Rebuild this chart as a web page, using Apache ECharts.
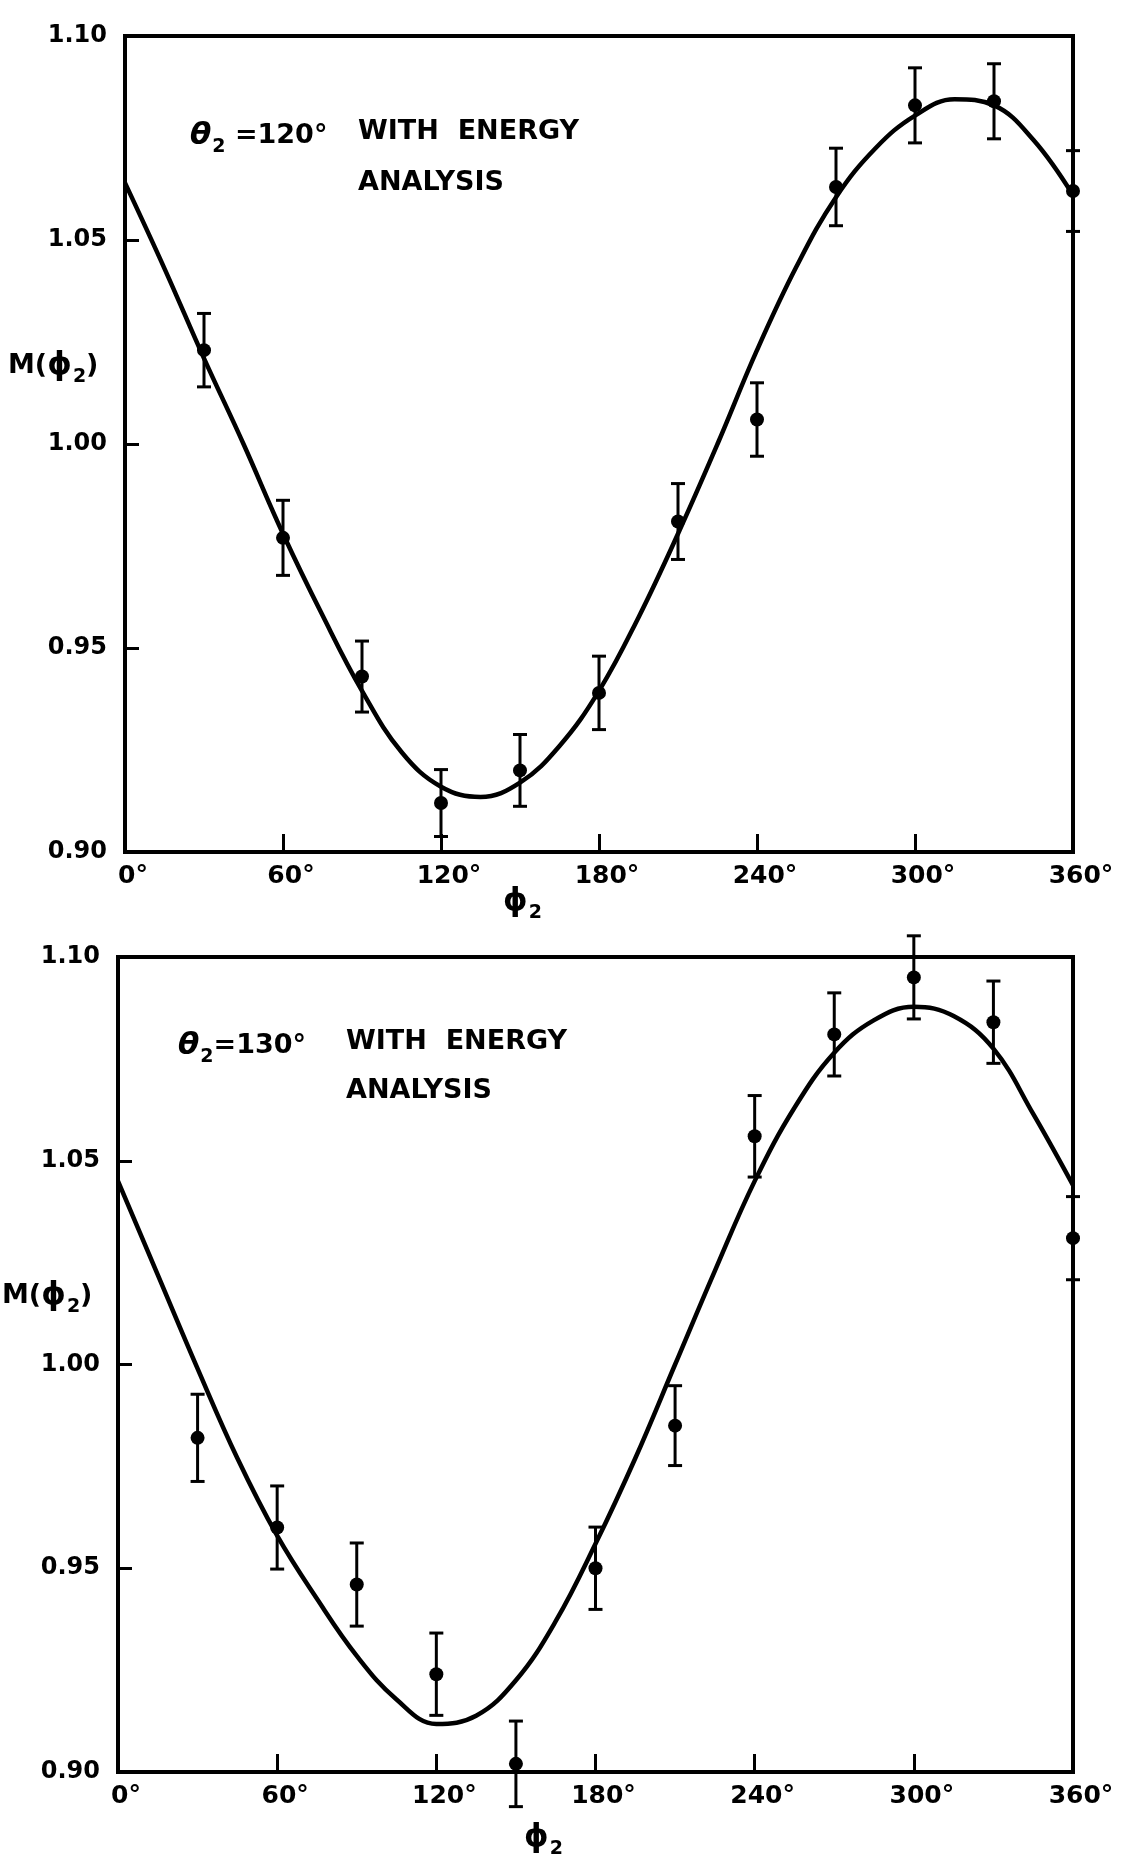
<!DOCTYPE html>
<html><head><meta charset="utf-8">
<script src="https://cdn.jsdelivr.net/npm/echarts@6/dist/echarts.min.js"></script>
<style>html,body{margin:0;padding:0;background:#fff}#c{width:1122px;height:1868px}</style>
</head><body><div id="c"></div>
<script>
// ---- data ----
const xTicks = [0, 60, 120, 180, 240, 300, 360];
const yTicks = [0.90, 0.95, 1.00, 1.05, 1.10];
const phi = [30, 60, 90, 120, 150, 180, 210, 240, 270, 300, 330, 360];

// top panel: theta2 = 120 deg
const topM   = [1.023, 0.977, 0.943, 0.912, 0.920, 0.939, 0.981, 1.006, 1.063, 1.083, 1.084, 1.062];
const topErr = [0.009, 0.0092, 0.0087, 0.0082, 0.0088, 0.009, 0.0093, 0.009, 0.0095, 0.0092, 0.0092, 0.0099];
const curvePhi = [0, 15, 30, 45, 60, 75, 90, 105, 120, 135, 150, 165, 180, 195, 210, 225, 240, 255, 270, 285, 300, 315, 330, 345, 360];
const topCurve = [1.064, 1.043, 1.021, 1.000, 0.978, 0.958, 0.9395, 0.9245, 0.916, 0.9135, 0.917, 0.926, 0.9395, 0.9575, 0.978, 1.000, 1.023, 1.0435, 1.0605, 1.0725, 1.0805, 1.0845, 1.083, 1.0745, 1.061];

// bottom panel: theta2 = 130 deg
const botM   = [0.982, 0.960, 0.946, 0.924, 0.902, 0.950, 0.985, 1.056, 1.081, 1.095, 1.084, 1.031];
const botErr = [0.0107, 0.0102, 0.0102, 0.0101, 0.0105, 0.0101, 0.0098, 0.010, 0.0102, 0.0102, 0.0101, 0.0102];
const botCurve = [1.045, 1.022, 0.999, 0.977, 0.958, 0.9425, 0.9285, 0.9178, 0.9118, 0.9138, 0.9225, 0.937, 0.956, 0.977, 1.000, 1.023, 1.045, 1.063, 1.0765, 1.0845, 1.0878, 1.0855, 1.0775, 1.0615, 1.044];

const titleTop = ['120°', 'WITH  ENERGY', 'ANALYSIS'];
const titleBot = ['130°', 'WITH  ENERGY', 'ANALYSIS'];

// ---- chart ----
const FONT = 'DejaVu Sans';
const chart = echarts.init(document.getElementById('c'), null, {renderer: 'canvas'});

function xAxisCfg(gi) {
  return {
    type: 'value', gridIndex: gi, min: xTicks[0], max: xTicks[xTicks.length - 1], interval: 60,
    axisLine: {show: true, lineStyle: {color: '#000', width: 4}},
    axisTick: {show: true, inside: true, length: 18, lineStyle: {color: '#000', width: 3}},
    splitLine: {show: false},
    axisLabel: {show: true, showMinLabel: true, showMaxLabel: true, margin: 12, color: '#000',
      fontFamily: FONT, fontWeight: 'bold', fontSize: 25, padding: [0, 0, 0, 16], formatter: v => v + '°'}
  };
}
function yAxisCfg(gi) {
  return {
    type: 'value', gridIndex: gi, min: yTicks[0], max: yTicks[yTicks.length - 1], interval: 0.05,
    axisLine: {show: true, lineStyle: {color: '#000', width: 4}},
    axisTick: {show: true, inside: true, length: 14, lineStyle: {color: '#000', width: 3}},
    splitLine: {show: false},
    axisLabel: {show: true, showMinLabel: true, showMaxLabel: true, margin: 18, color: '#000',
      fontFamily: FONT, fontWeight: 'bold', fontSize: 24, padding: [0, 0, 16, 0], formatter: v => v.toFixed(2)}
  };
}

function errRender(params, api) {
  const x = api.value(0), lo = api.value(1), hi = api.value(2);
  const a = api.coord([x, hi]), b = api.coord([x, lo]);
  const w = 7, st = {stroke: '#000', lineWidth: 3};
  return {type: 'group', children: [
    {type: 'line', shape: {x1: a[0], y1: a[1], x2: b[0], y2: b[1]}, style: st},
    {type: 'line', shape: {x1: a[0] - w, y1: a[1], x2: a[0] + w, y2: a[1]}, style: st},
    {type: 'line', shape: {x1: b[0] - w, y1: b[1], x2: b[0] + w, y2: b[1]}, style: st}
  ]};
}

function seriesFor(gi, M, E, C) {
  return [
    {type: 'line', xAxisIndex: gi, yAxisIndex: gi, smooth: 0.4, showSymbol: false, clip: false,
      data: curvePhi.map((p, i) => [p, C[i]]), lineStyle: {color: '#000', width: 4.5}, z: 3},
    {type: 'custom', xAxisIndex: gi, yAxisIndex: gi, clip: false, renderItem: errRender,
      data: phi.map((p, i) => [p, M[i] - E[i], M[i] + E[i]]), z: 4},
    {type: 'scatter', xAxisIndex: gi, yAxisIndex: gi, clip: false, symbol: 'circle', symbolSize: 14,
      itemStyle: {color: '#000', opacity: 1}, data: phi.map((p, i) => [p, M[i]]), z: 5}
  ];
}

const richBase = {
  p: {fontFamily: FONT, fontWeight: 'bold', fontSize: 27, color: '#000'},
  t: {fontFamily: FONT, fontWeight: 'bold', fontSize: 31, fontStyle: 'italic', color: '#000'},
  f: {fontFamily: FONT, fontWeight: 'bold', fontSize: 31, color: '#000'},
  s: {fontFamily: FONT, fontWeight: 'bold', fontSize: 19, color: '#000', padding: [22, 0, 0, 1]},
  n: {fontFamily: FONT, fontWeight: 'bold', fontSize: 27, color: '#000'}
};
function txt(x, y, text) {
  return {type: 'text', x: x, y: y, style: {text: text, rich: richBase,
    fontFamily: FONT, fontWeight: 'bold', fontSize: 27, fill: '#000', textVerticalAlign: 'middle'}};
}

const graphics = [
  // top panel annotations
  txt(190, 136, '{t|θ}{s|2} {n|=' + titleTop[0] + '}'),
  txt(358, 132, titleTop[1]),
  txt(358, 183, titleTop[2]),
  txt(8, 366, '{p|M(}{f|ϕ}{s|2}{p|)}'),
  txt(503, 902, '{f|ϕ}{s|2}'),
  // bottom panel annotations
  txt(178, 1046, '{t|θ}{s|2}{n|=' + titleBot[0] + '}'),
  txt(346, 1042, titleBot[1]),
  txt(346, 1091, titleBot[2]),
  txt(2, 1296, '{p|M(}{f|ϕ}{s|2}{p|)}'),
  txt(524, 1838, '{f|ϕ}{s|2}')
];

const option = {
  backgroundColor: '#fff',
  animation: false,
  grid: [
    {left: 125, right: 1122 - 1073, top: 36, height: 816, show: true, borderColor: '#000', borderWidth: 4, backgroundColor: 'transparent'},
    {left: 118, right: 1122 - 1073, top: 957, height: 815, show: true, borderColor: '#000', borderWidth: 4, backgroundColor: 'transparent'}
  ],
  xAxis: [xAxisCfg(0), xAxisCfg(1)],
  yAxis: [yAxisCfg(0), yAxisCfg(1)],
  series: seriesFor(0, topM, topErr, topCurve).concat(seriesFor(1, botM, botErr, botCurve)),
  graphic: graphics
};
chart.setOption(option);
</script></body></html>
